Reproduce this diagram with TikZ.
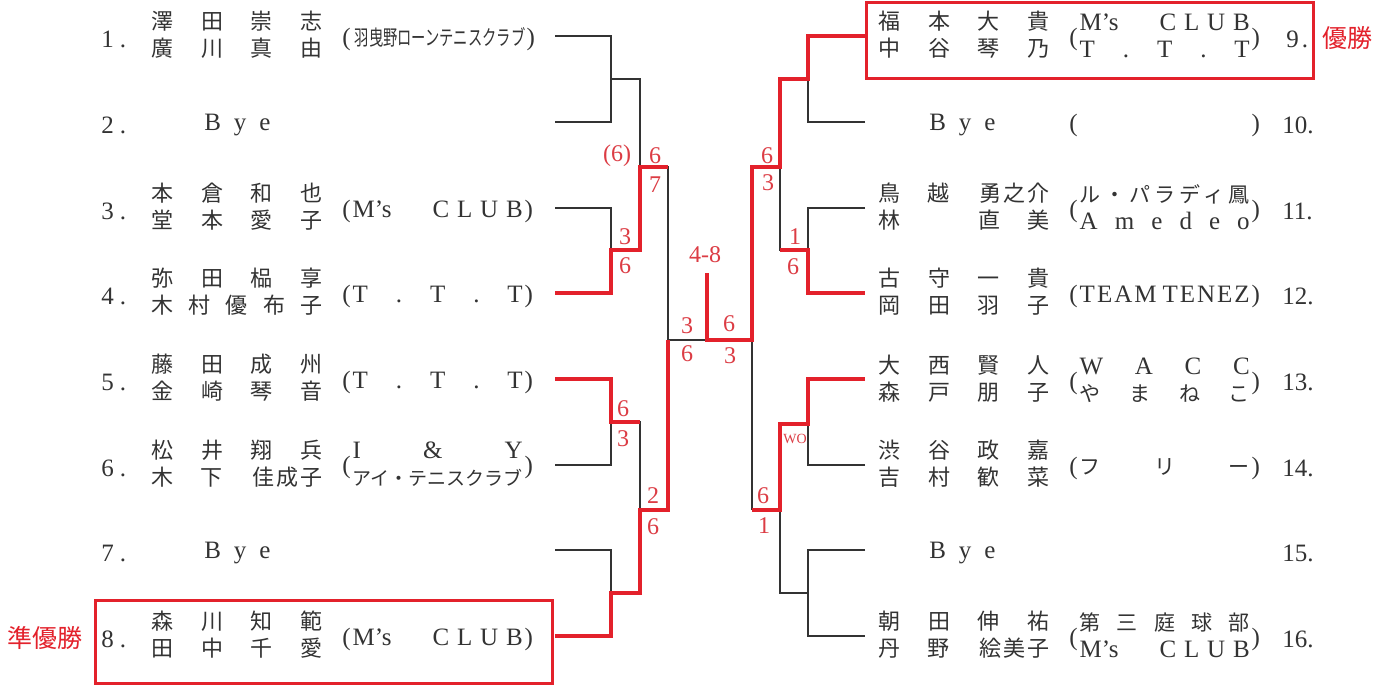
\documentclass[tikz,border=0pt]{standalone}
\usepackage{fontspec}
\usepackage{graphicx}
\setmainfont{Liberation Serif}
\newfontfamily\jp{Noto Sans CJK JP}
\definecolor{ink}{HTML}{333333}
\definecolor{win}{HTML}{E3212B}
\definecolor{sc}{HTML}{DC3C44}
\newlength\NW \setlength\NW{85.5pt}
\newlength\TW \setlength\TW{85pt}
\newcommand\Qn[4]{\hbox to \NW{#1\hfil #2\hfil #3\hfil #4}}
\newcommand\Qf[3]{\hbox to \NW{\makebox[24.75pt][l]{#1}#2\hfil #3}}
\newcommand\Sp[1]{\hbox to \TW{#1}}
\newcommand\two[2]{\begin{tabular}{@{}l@{}}#1\\#2\end{tabular}}
\newcommand\MC{\Sp{M’s\hfil\hbox to 45pt{C\hfil L\hfil U\hfil B}}}
\newcommand\TTT{\Sp{T\hfil .\hfil T\hfil .\hfil T}}
\newcommand\jps{\jp\fontsize{10.5}{13.5}\selectfont}
\tikzset{
  gl/.style={draw=ink, line width=0.6pt},
  rl/.style={draw=win, line width=2pt},
  nm/.style={anchor=west, inner sep=0pt, text=ink, font=\jp\fontsize{11}{13.5}\selectfont},
  tm/.style={anchor=west, inner sep=0pt, text=ink, font=\fontsize{12.5}{13.5}\selectfont},
  num/.style={anchor=west, inner sep=0pt, text=ink, font=\fontsize{12.5}{13.5}\selectfont},
  sco/.style={text=sc, inner sep=0pt, font=\fontsize{12}{13}\selectfont},
  tag/.style={text=win, inner sep=0pt, font=\jp\fontsize{12.5}{14}\selectfont},
  wbox/.style={draw=win, line width=1.5pt}
}
\begin{document}
\begin{tikzpicture}[x=0.5pt, y=-0.5pt]
\useasboundingbox[fill=white] (0,0) rectangle (1391,685);
% row line ends
\coordinate (L1) at (555,36);  \coordinate (L2) at (555,122);
\coordinate (L3) at (555,208); \coordinate (L4) at (555,293);
\coordinate (L5) at (555,379); \coordinate (L6) at (555,465);
\coordinate (L7) at (555,550); \coordinate (L8) at (555,636);
\coordinate (R9) at (865,36);   \coordinate (R10) at (865,122);
\coordinate (R11) at (865,208); \coordinate (R12) at (865,293);
\coordinate (R13) at (865,379); \coordinate (R14) at (865,465);
\coordinate (R15) at (865,550); \coordinate (R16) at (865,636);
% junctions
\coordinate (a1) at (611,79);  \coordinate (a2) at (611,250);
\coordinate (a3) at (611,422); \coordinate (a4) at (611,593);
\coordinate (b1) at (640,167); \coordinate (b2) at (640,510);
\coordinate (c0) at (668,167); \coordinate (c1) at (668,340);
\coordinate (fin) at (707,340); \coordinate (fintop) at (707,273);
\coordinate (d1) at (752,340); \coordinate (d2) at (752,510);
\coordinate (e1) at (780,167); \coordinate (e2) at (780,510); \coordinate (e3) at (780,424);
\coordinate (g1) at (808,79);  \coordinate (g2) at (808,250);
\coordinate (g3) at (808,424); \coordinate (g4) at (808,593);
% gray bracket lines
\draw[gl] (L1) -| (a1) |- (L2);
\draw[gl] (a1) -| (b1);
\draw[gl] (L3) -| (a2);
\draw[gl] (b1) -| (c1) -- (fin);
\draw[gl] (L6) -| (a3);
\draw[gl] (a3) -| (b2);
\draw[gl] (L7) -| (a4);
\draw[gl] (R10) -| (g1);
\draw[gl] (e1) |- (g2);
\draw[gl] (R11) -| (g2);
\draw[gl] (d1) -- (d2);
\draw[gl] (R14) -| (g3);
\draw[gl] (e2) |- (g4);
\draw[gl] (R15) -| (g4) |- (R16);
% red winner lines
\draw[rl] (L4) -| (a2) -| (b1) -- (c0);
\draw[rl] (L5) -| (a3) -- (a3 -| b2);
\draw[rl] (L8) -| (a4) -| (b2) -| (c1);
\draw[rl] (fintop) -- (fin) -- (d1) |- (e1) |- (g1) |- (R9);
\draw[rl] (e1 |- g2) -- (g2) |- (R12);
\draw[rl] (d2) -| (e3) -- (g3) |- (R13);
% boxes
\coordinate (bx1) at (95,600); \coordinate (bx2) at (552,683);
\coordinate (bx3) at (866,2);  \coordinate (bx4) at (1313,78);
\draw[wbox] (bx1) rectangle (bx2);
\draw[wbox] (bx3) rectangle (bx4);
% left numbers
\node[num] (k1) at (101,39) {1\kern3pt.};
\node[num] (k2) at (101,125) {2\kern3pt.};
\node[num] (k3) at (101,211) {3\kern3pt.};
\node[num] (k4) at (101,296) {4\kern3pt.};
\node[num] (k5) at (101,382) {5\kern3pt.};
\node[num] (k6) at (101,468) {6\kern3pt.};
\node[num] (k7) at (101,553) {7\kern3pt.};
\node[num] (k8) at (101,639) {8\kern3pt.};
% left names
\node[nm] (n1) at (151,38) {\two{\Qn{澤}{田}{崇}{志}}{\Qn{廣}{川}{真}{由}}};
\node[num] (n2) at (204,125) {\hbox to 33pt{B\hfil y\hfil e}};
\node[nm] (n3) at (151,210) {\two{\Qn{本}{倉}{和}{也}}{\Qn{堂}{本}{愛}{子}}};
\node[nm] (n4) at (151,295) {\two{\Qn{弥}{田}{榀}{享}}{\hbox to \NW{木\hfil 村\hfil 優\hfil 布\hfil 子}}};
\node[nm] (n5) at (151,381) {\two{\Qn{藤}{田}{成}{州}}{\Qn{金}{崎}{琴}{音}}};
\node[nm] (n6) at (151,467) {\two{\Qn{松}{井}{翔}{兵}}{\Qf{木}{下}{佳\kern1pt 成\kern1pt 子}}};
\node[num] (n7) at (204,553) {\hbox to 33pt{B\hfil y\hfil e}};
\node[nm] (n8) at (151,638) {\two{\Qn{森}{川}{知}{範}}{\Qn{田}{中}{千}{愛}}};
% left teams
\node[tm] (t1) at (342,39) {(\kern2pt\Sp{\scalebox{0.68}[1]{\jp\fontsize{10.5}{12}\selectfont 羽曳野ローンテニスクラブ}\hfil}\kern1pt)};
\node[tm] (t3) at (342,211) {(\kern1pt\MC\kern1pt)};
\node[tm] (t4) at (342,296) {(\kern1pt\TTT\kern1pt)};
\node[tm] (t5) at (342,382) {(\kern1pt\TTT\kern1pt)};
\node[tm] (t6) at (342,467) {(\kern1pt\two{\Sp{I\hfil\&\hfil Y}}{\Sp{\jp\fontsize{9.5}{13.5}\selectfont アイ・テニスクラブ}}\kern1pt)};
\node[tm] (t8) at (342,639) {(\kern1pt\MC\kern1pt)};
% right names
\node[nm] (n9) at (878,38) {\two{\Qn{福}{本}{大}{貴}}{\Qn{中}{谷}{琴}{乃}}};
\node[num] (n10) at (929,125) {\hbox to 33pt{B\hfil y\hfil e}};
\node[nm] (n11) at (878,210) {\two{\Qf{鳥}{越}{勇\kern1pt 之\kern1pt 介}}{\hbox to \NW{林\hfil 直\kern13.5pt 美}}};
\node[nm] (n12) at (878,295) {\two{\Qn{古}{守}{一}{貴}}{\Qn{岡}{田}{羽}{子}}};
\node[nm] (n13) at (878,382) {\two{\Qn{大}{西}{賢}{人}}{\Qn{森}{戸}{朋}{子}}};
\node[nm] (n14) at (878,467) {\two{\Qn{渋}{谷}{政}{嘉}}{\Qn{吉}{村}{歓}{菜}}};
\node[num] (n15) at (929,553) {\hbox to 33pt{B\hfil y\hfil e}};
\node[nm] (n16) at (878,638) {\two{\Qn{朝}{田}{伸}{祐}}{\Qf{丹}{野}{絵\kern1pt 美\kern1pt 子}}};
% right teams
\node[tm] (t9) at (1069,39) {(\kern1pt\two{\MC}{\TTT}\kern1pt)};
\node[tm] (t10) at (1069,125) {(\kern1pt\Sp{}\kern1pt)};
\node[tm] (t11) at (1069,211) {(\kern1pt\two{\Sp{\jps ル\hfil ・\hfil パ\hfil ラ\hfil デ\hfil ィ\hfil 鳳}}{\Sp{A\hfil m\hfil e\hfil d\hfil e\hfil o}}\kern1pt)};
\node[tm] (t12) at (1069,296) {(\kern1pt\Sp{T\hfil E\hfil A\hfil M\hfil\hfil\hfil T\hfil E\hfil N\hfil E\hfil Z}\kern1pt)};
\node[tm] (t13) at (1069,383) {(\kern1pt\two{\Sp{W\hfil A\hfil C\hfil C}}{\Sp{\jps や\hfil ま\hfil ね\hfil こ}}\kern1pt)};
\node[tm] (t14) at (1069,468) {(\kern1pt\Sp{\jps フ\hfil リ\hfil ー}\kern1pt)};
\node[tm] (t16) at (1069,639) {(\kern1pt\two{\Sp{\jps 第\hfil 三\hfil 庭\hfil 球\hfil 部}}{\MC}\kern1pt)};
% right numbers
\node[num] (k9) at (1286,39) {9\kern1.5pt.};
\node[num] (k10) at (1282,125) {10.};
\node[num] (k11) at (1282,211) {11.};
\node[num] (k12) at (1282,296) {12.};
\node[num] (k13) at (1282,382) {13.};
\node[num] (k14) at (1282,468) {14.};
\node[num] (k15) at (1282,553) {15.};
\node[num] (k16) at (1282,639) {16.};
% tags
\node[tag] (champ) at (1347,38) {優勝};
\node[tag] (runner) at (45,638) {準優勝};
% scores
\node[sco] (s1) at (617,156) {(6)};
\node[sco] (s2) at (655,156) {6};
\node[sco] (s3) at (655,185) {7};
\node[sco] (s4) at (625,237) {3};
\node[sco] (s5) at (625,266) {6};
\node[sco] (s6) at (623,409) {6};
\node[sco] (s7) at (623,439) {3};
\node[sco] (s8) at (653,496) {2};
\node[sco] (s9) at (653,527) {6};
\node[sco] (s10) at (705,255) {4-8};
\node[sco] (s11) at (687,326) {3};
\node[sco] (s12) at (687,354) {6};
\node[sco] (s13) at (729,324) {6};
\node[sco] (s14) at (730,356) {3};
\node[sco] (s15) at (767,156) {6};
\node[sco] (s16) at (768,183) {3};
\node[sco] (s17) at (795,237) {1};
\node[sco] (s18) at (793,267) {6};
\node[sco, font=\fontsize{7}{8}\selectfont] (s19) at (795,439) {WO};
\node[sco] (s20) at (763,496) {6};
\node[sco] (s21) at (764,526) {1};
\end{tikzpicture}
\end{document}
